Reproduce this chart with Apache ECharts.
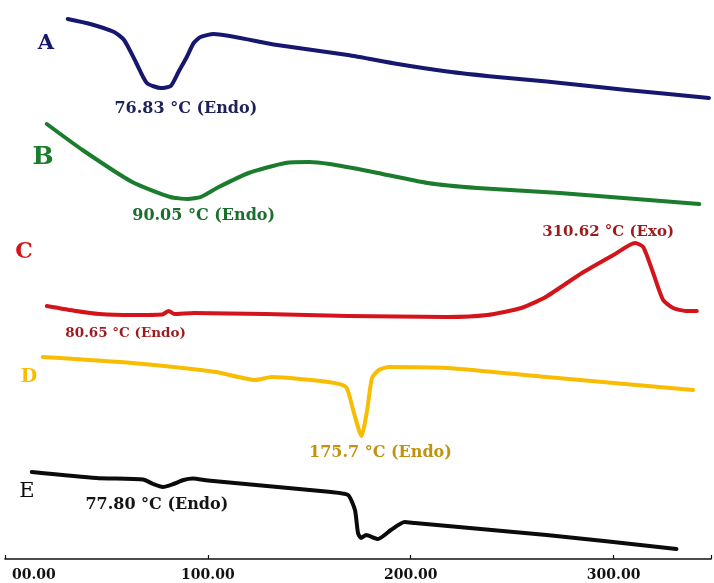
<!DOCTYPE html>
<html>
<head>
<meta charset="utf-8">
<title>DSC thermograms</title>
<script src="https://cdn.jsdelivr.net/npm/echarts@6/dist/echarts.min.js"></script>
<style>
  html, body { margin: 0; padding: 0; background: #fff; }
  #chart { width: 714px; height: 583px; }
</style>
</head>
<body>
<div id="chart"></div>
<script>
// Temperature (°C) vs. heat flow (arbitrary units, each trace offset vertically)
const curveA = [[30.9,54.0],[42,53.5],[53.8,52.7],[58.7,51.9],[64,49.9],[69.9,47.6],[76.83,47.1],[81.7,47.3],[85.5,48.7],[89.6,50.2],[93,51.6],[96.4,52.2],[102.8,52.5],[132.4,51.45],[169,50.4],[193.6,49.5],[218,48.75],[242.6,48.2],[267,47.75],[306.4,46.9],[347,46.1]];
const curveB = [[20.6,43.5],[38.2,40.9],[62.7,37.7],[81.5,36.2],[90.05,36.0],[96.5,36.2],[105.4,37.2],[120.1,38.6],[138.2,39.6],[150,39.7],[160,39.5],[174,39.0],[183.8,38.6],[208.3,37.6],[232.8,37.1],[273.5,36.6],[342.2,35.5]];
const curveC = [[20.6,25.3],[35,24.8],[46.6,24.5],[62.7,24.4],[77.5,24.45],[80.65,24.8],[83.5,24.5],[93,24.6],[128.4,24.5],[169,24.3],[218,24.2],[237.7,24.4],[254.5,25.1],[266.5,26.2],[284.4,28.6],[299.9,30.4],[310.62,31.6],[314.6,31.2],[319.5,28.6],[324.4,25.9],[329.3,25.1],[335.6,24.8],[341,24.8]];
const curveD = [[18.6,20.2],[62.7,19.6],[103.9,18.7],[123.5,17.9],[131.4,18.2],[159.3,17.7],[168.1,17.2],[171.6,14.9],[175.7,12.3],[178.5,14.9],[180.9,18.1],[184.3,18.9],[189.2,19.2],[218,19.1],[267,18.2],[339.2,16.9]];
const curveE = [[13.2,8.7],[45,8.1],[68,7.95],[73,7.5],[77.8,7.2],[83,7.5],[88,7.9],[92.6,8.05],[100,7.85],[160.8,6.7],[169.1,6.4],[172.5,4.9],[174,2.6],[175.5,2.1],[178,2.4],[183.8,2.0],[190.2,2.9],[197,3.7],[202,3.6],[267,2.4],[331,1.0]];

const traceNames = ['A', 'B', 'C', 'D', 'E'];
const xTicks = [0, 100, 200, 300];

// Peak annotations: temperature text, event type, trace index
const peakTemp  = ['76.83', '90.05', '80.65', '310.62', '175.7', '77.80'];
const peakKind  = ['Endo', 'Endo', 'Endo', 'Exo', 'Endo', 'Endo'];
const peakTrace = [0, 1, 2, 2, 3, 4];

// ---- styling ----
const curves = [curveA, curveB, curveC, curveD, curveE];
const lineColors  = ['#16176f', '#1a7c2c', '#d3141a', '#f8bd02', '#0b0b0b'];
const labelColors = ['#1d2258', '#1c6e2e', '#9c1b1e', '#c0920e', '#151515'];
const letterStyle = [
  { x: 46, y: 44,  size: 21, weight: 'bold' },
  { x: 43, y: 157, size: 25, weight: 'bold' },
  { x: 24, y: 252, size: 22, weight: 'bold' },
  { x: 29, y: 377, size: 19, weight: 'bold' },
  { x: 27, y: 492, size: 21, weight: 'normal' }
];
const peakLabelStyle = [
  { dx: 25,  dy: 21,  size: 16 },
  { dx: 16,  dy: 17,  size: 16 },
  { dx: -43, dy: 22,  size: 13.5 },
  { dx: -27, dy: -11, size: 15 },
  { dx: 19,  dy: 17,  size: 16 },
  { dx: -6,  dy: 18,  size: 16 }
];
const serif = '"DejaVu Serif", "Liberation Serif", serif';

const series = curves.map((data, i) => {
  const marks = [];
  peakTrace.forEach((t, k) => {
    if (t !== i) return;
    const temp = parseFloat(peakTemp[k]);
    const pt = data.find(p => p[0] === temp);
    const st = peakLabelStyle[k];
    marks.push({
      coord: pt,
      symbol: 'circle',
      symbolSize: 1,
      itemStyle: { color: 'rgba(0,0,0,0)' },
      label: {
        show: true,
        position: 'inside',
        offset: [st.dx, st.dy],
        formatter: peakTemp[k] + ' \u00B0C (' + peakKind[k] + ')',
        color: labelColors[i],
        fontFamily: serif,
        fontWeight: 'bold',
        fontSize: st.size
      }
    });
  });
  return {
    name: traceNames[i],
    type: 'line',
    data: data,
    showSymbol: false,
    smooth: 0.2,
    silent: true,
    lineStyle: { color: lineColors[i], width: 4, cap: 'round', join: 'round' },
    markPoint: { silent: true, animation: false, data: marks }
  };
});

const letters = traceNames.map((n, i) => ({
  type: 'text',
  x: letterStyle[i].x,
  y: letterStyle[i].y,
  style: {
    text: n,
    fill: lineColors[i],
    font: letterStyle[i].weight + ' ' + letterStyle[i].size + 'px ' + serif,
    align: 'center',
    verticalAlign: 'middle'
  }
}));

const chart = echarts.init(document.getElementById('chart'), null, { renderer: 'canvas' });
chart.setOption({
  animation: false,
  backgroundColor: '#ffffff',
  grid: { left: 5, right: 0, top: 0, bottom: 24, containLabel: false },
  xAxis: {
    type: 'value',
    min: 0,
    max: 348,
    interval: 100,
    splitLine: { show: false },
    axisLine: { show: true, onZero: false, lineStyle: { color: '#111', width: 1.6 } },
    axisTick: { show: true, inside: true, length: 4, lineStyle: { color: '#111', width: 1.2 } },
    axisLabel: {
      alignMinLabel: 'left',
      margin: 9,
      color: '#111',
      fontFamily: serif,
      fontWeight: 'bold',
      fontSize: 14,
      formatter: v => {
        if (xTicks.indexOf(v) < 0) return '';
        return v === 0 ? '{m|00.00}' : v.toFixed(2);
      },
      rich: { m: { padding: [0, 0, 0, 7], color: '#111', fontFamily: serif, fontWeight: 'bold', fontSize: 14 } }
    }
  },
  yAxis: {
    type: 'value',
    min: 0,
    max: 55.9,
    show: false
  },
  graphic: letters,
  series: series
});
</script>
</body>
</html>
